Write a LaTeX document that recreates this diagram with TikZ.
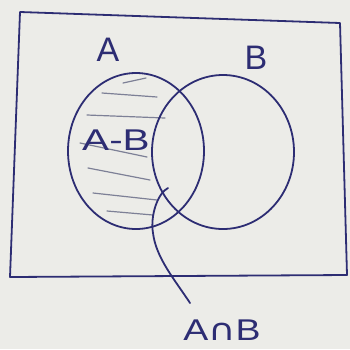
\documentclass[tikz,border=0pt]{standalone}
\usepackage{fontspec}
\setmainfont{Liberation Sans}
\newfontfamily\symfont{DejaVu Sans}
\usetikzlibrary{shapes.geometric}
\definecolor{ink}{RGB}{45,45,115}
\definecolor{hatch}{RGB}{125,128,150}
\definecolor{paper}{RGB}{236,236,232}
\tikzset{
  pen/.style={draw=ink, line width=1.8pt, line cap=round, line join=round},
  setshape/.style={ellipse, pen, inner sep=0pt},
  hatchline/.style={draw=hatch, line width=1.2pt, line cap=round},
  lbl/.style={text=ink, inner sep=0pt, font=\fontsize{30}{32}\selectfont}
}
\begin{document}
\begin{tikzpicture}[x=1pt,y=-1pt]
\fill[paper] (0,0) rectangle (350,349);
\useasboundingbox (0,0) rectangle (350,349);
% universe rectangle
\draw[pen] (20,12) -- (340,23) -- (347,275) -- (10,277) -- cycle;
% hatching of A - B
\foreach \a/\b/\c/\d in {102/93/157/97, 87/115/165/118, 80/143/147/157, 88/168/150/180, 93/193/157/200, 107/211/153/215}
  \draw[hatchline] (\a,\b) -- (\c,\d);
\draw[hatchline] (123,83) -- (146,78);
% sets
\node[setshape, minimum width=136pt, minimum height=156pt] (A) at (136,151) {};
\node[setshape, minimum width=142pt, minimum height=154pt] (B) at (223,152) {};
% labels
\node[lbl, font=\fontsize{34}{36}\selectfont] (la) at (108,50) {A};
\node[lbl, font=\fontsize{34}{36}\selectfont] (lb) at (256,58) {B};
\node[lbl, xscale=1.35] (amb) at (116,140) {A-B};
\node[lbl, xscale=1.25] (aib) at (222,330) {A{\symfont ∩}B};
% pointer to intersection
\coordinate (p) at (168,188);
\draw[pen] (p) .. controls (158,193) and (150,215) .. (153,233)
  .. controls (156,258) and (175,280) .. (190,303);
\end{tikzpicture}
\end{document}
